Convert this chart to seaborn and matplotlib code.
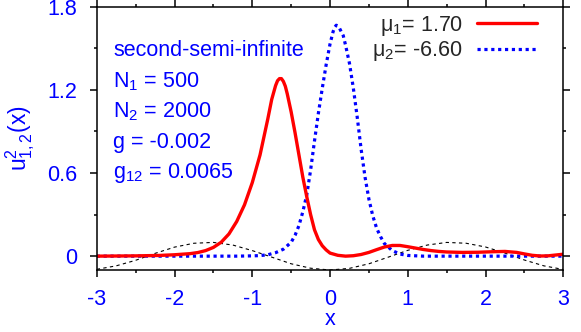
import matplotlib
matplotlib.use("Agg")
import matplotlib.pyplot as plt
import seaborn as sns
import pandas as pd
from matplotlib.ticker import MultipleLocator, FormatStrFormatter

# values
red_x = [-3.0, -2.5, -2.2, -2.0, -1.8, -1.7, -1.6, -1.5, -1.4, -1.3, -1.2, -1.1, -1.0, -0.9, -0.8,
         -0.75, -0.7, -0.675, -0.65, -0.625, -0.6, -0.575, -0.55, -0.5, -0.45, -0.4, -0.35, -0.3,
         -0.25, -0.2, -0.15, -0.1, -0.05,
         0.0, 0.1, 0.2, 0.3, 0.4, 0.5, 0.6, 0.7, 0.8, 0.9, 1.0, 1.1, 1.2, 1.3, 1.4,
         1.5, 1.7, 1.9, 2.1, 2.25, 2.4, 2.5, 2.6, 2.7, 2.8, 2.9, 3.0]
red_y = [0.0, 0.002, 0.005, 0.01, 0.018, 0.026, 0.04, 0.063, 0.1, 0.16, 0.25, 0.37, 0.53, 0.73, 0.99,
         1.13, 1.23, 1.265, 1.28, 1.28, 1.26, 1.225, 1.17, 1.04, 0.89, 0.73, 0.57, 0.43,
         0.30, 0.19, 0.12, 0.075, 0.045,
         0.022, 0.006, 0.0, 0.003, 0.012, 0.027, 0.047, 0.066, 0.077, 0.077, 0.068, 0.058, 0.048, 0.040, 0.034,
         0.030, 0.027, 0.028, 0.032, 0.034, 0.027, 0.016, 0.006, 0.001, 0.002, 0.008, 0.014]

blue_x = [-3.0, -2.0, -1.2, -1.0, -0.9, -0.8, -0.7, -0.6, -0.5, -0.45, -0.4, -0.35, -0.3, -0.25, -0.2,
          -0.15, -0.1, -0.05, 0.0, 0.04, 0.06, 0.08, 0.1, 0.12, 0.17, 0.2, 0.25, 0.3, 0.35, 0.4, 0.45, 0.5,
          0.55, 0.6, 0.65, 0.7, 0.8, 0.9, 1.0, 1.2, 2.0, 3.0]
blue_y = [0.0, 0.0, 0.0, 0.002, 0.004, 0.01, 0.025, 0.05, 0.1, 0.15, 0.22, 0.32, 0.44, 0.62, 0.83,
          1.03, 1.21, 1.38, 1.53, 1.62, 1.65, 1.665, 1.66, 1.645, 1.59, 1.52, 1.39, 1.21, 1.0, 0.77, 0.57, 0.41,
          0.29, 0.2, 0.14, 0.09, 0.04, 0.015, 0.005, 0.0, 0.0, 0.0]

pot_x = [-3.0, -2.75, -2.5, -2.25, -2.0, -1.75, -1.5, -1.25, -1.0, -0.75, -0.5, -0.25, 0.0,
         0.25, 0.5, 0.75, 1.0, 1.25, 1.5, 1.75, 2.0, 2.25, 2.5, 2.75, 3.0]
pot_y = [-0.095, -0.07, -0.03, 0.02, 0.065, 0.093, 0.099, 0.08, 0.04, -0.007, -0.055, -0.087, -0.1,
         -0.088, -0.055, -0.007, 0.042, 0.08, 0.099, 0.093, 0.066, 0.022, -0.028, -0.07, -0.096]

labels = ["second-semi-infinite", "N$_1$ = 500", "N$_2$ = 2000", "g = -0.002", "g$_{12}$ = 0.0065"]
label_y = [1.44, 1.22, 1.0, 0.78, 0.56]
mu1_label = "\u03bc$_1$= 1.70"
mu2_label = "\u03bc$_2$= -6.60"

sns.set_style("ticks")
plt.rcParams["font.family"] = ["Liberation Sans", "DejaVu Sans"]
plt.rcParams["mathtext.fontset"] = "custom"
plt.rcParams["mathtext.rm"] = "Liberation Sans"
plt.rcParams["mathtext.it"] = "Liberation Sans"
plt.rcParams["mathtext.default"] = "regular"

fs = 15.5
fig = plt.figure(figsize=(5.81, 3.32), dpi=100)
ax = fig.add_axes([0.1665, 0.1867, 0.8031, 0.7937])

red = pd.DataFrame({"x": red_x, "y": red_y})
blue = pd.DataFrame({"x": blue_x, "y": blue_y})
pot = pd.DataFrame({"x": pot_x, "y": pot_y})

sns.lineplot(data=pot, x="x", y="y", ax=ax, color="black", lw=0.8,
             linestyle=(0, (3, 3)), sort=False, legend=False)
sns.lineplot(data=blue, x="x", y="y", ax=ax, color="#0000ff", lw=2.3,
             linestyle=(0, (1, 1.15)), sort=False, label=mu2_label)
sns.lineplot(data=red, x="x", y="y", ax=ax, color="#ff0000", lw=2.4,
             sort=False, label=mu1_label)

ax.set_xlim(-3, 3)
ax.set_ylim(-0.1, 1.8)
ax.xaxis.set_major_locator(MultipleLocator(1))
ax.xaxis.set_minor_locator(MultipleLocator(0.5))
ax.xaxis.set_major_formatter(FormatStrFormatter("%g"))
ax.set_yticks([0, 0.6, 1.2, 1.8])
ax.yaxis.set_major_formatter(FormatStrFormatter("%g"))
ax.yaxis.set_minor_locator(MultipleLocator(0.3))
ax.tick_params(which="both", direction="out", top=True, right=True, width=1.1,
               color="black", labelcolor="#0000ff", labelsize=fs)
ax.tick_params(which="major", length=5)
ax.tick_params(which="minor", length=2.5)
ax.tick_params(axis="x", pad=9)
ax.tick_params(axis="y", pad=9)
for s in ax.spines.values():
    s.set_linewidth(1.1)
    s.set_color("black")

ax.set_xlabel("x", color="#0000ff", fontsize=fs, va="top")
ax.xaxis.set_label_coords(0.5, -0.148)
ax.set_ylabel("u$^2_{1,2}$(x)", color="#0000ff", fontsize=fs + 1, va="center")
ax.yaxis.set_label_coords(-0.163, 0.5)

for t, yv in zip(labels, label_y):
    ax.text(-2.79, yv, t, color="#0000ff", fontsize=fs, va="baseline", ha="left")

handles, lbls = ax.get_legend_handles_labels()
order = [lbls.index(mu1_label), lbls.index(mu2_label)]
ax.legend([handles[i] for i in order], [lbls[i] for i in order],
          loc="upper right", bbox_to_anchor=(0.9436, 0.9715), frameon=False,
          markerfirst=False, fontsize=fs, handlelength=2.8, handletextpad=0.65,
          borderpad=0, borderaxespad=0, labelspacing=0.05)

fig.savefig("out.png", dpi=100)
